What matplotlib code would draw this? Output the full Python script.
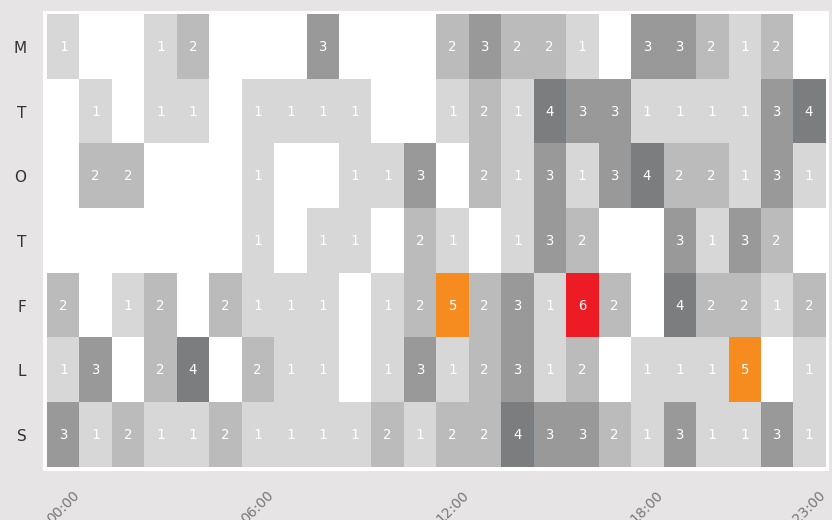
import matplotlib.pyplot as plt
import numpy as np
from matplotlib.colors import ListedColormap, BoundaryNorm

days = ['M', 'T', 'O', 'T', 'F', 'L', 'S']
hour_ticks = [0, 6, 12, 18, 23]
hour_labels = ['00:00', '06:00', '12:00', '18:00', '23:00']

mon = [1, 0, 0, 1, 2, 0, 0, 0, 3, 0, 0, 0, 2, 3, 2, 2, 1, 0, 3, 3, 2, 1, 2, 0]
tue = [0, 1, 0, 1, 1, 0, 1, 1, 1, 1, 0, 0, 1, 2, 1, 4, 3, 3, 1, 1, 1, 1, 3, 4]
wed = [0, 2, 2, 0, 0, 0, 1, 0, 0, 1, 1, 3, 0, 2, 1, 3, 1, 3, 4, 2, 2, 1, 3, 1]
thu = [0, 0, 0, 0, 0, 0, 1, 0, 1, 1, 0, 2, 1, 0, 1, 3, 2, 0, 0, 3, 1, 3, 2, 0]
fri = [2, 0, 1, 2, 0, 2, 1, 1, 1, 0, 1, 2, 5, 2, 3, 1, 6, 2, 0, 4, 2, 2, 1, 2]
sat = [1, 3, 0, 2, 4, 0, 2, 1, 1, 0, 1, 3, 1, 2, 3, 1, 2, 0, 1, 1, 1, 5, 0, 1]
sun = [3, 1, 2, 1, 1, 2, 1, 1, 1, 1, 2, 1, 2, 2, 4, 3, 3, 2, 1, 3, 1, 1, 3, 1]

level_colors = ['#ffffff', '#d7d7d7', '#bcbbbc', '#99999a', '#7c7d7f', '#f68b1f', '#ed1c24']


def main():
    grid = np.array([mon, tue, wed, thu, fri, sat, sun])
    cmap = ListedColormap(level_colors)
    norm = BoundaryNorm(np.arange(-0.5, 7.5, 1), cmap.N)

    fig = plt.figure(figsize=(8.32, 5.2), dpi=100, facecolor='#e6e4e5')
    ax = fig.add_axes([0.0517, 0.094, 0.9447, 0.8848])
    ax.set_facecolor('white')
    ax.imshow(grid, cmap=cmap, norm=norm, aspect='auto', interpolation='nearest')
    ax.set_xlim(-0.62, 23.62)
    ax.set_ylim(6.56, -0.56)

    for i in range(grid.shape[0]):
        for j in range(grid.shape[1]):
            if grid[i, j] > 0:
                ax.text(j, i, str(grid[i, j]), ha='center', va='center',
                        fontsize=10, color='white', family='DejaVu Sans Mono')

    ax.set_yticks(range(len(days)))
    ax.set_yticklabels(days, fontsize=11, color='#333333')
    ax.set_xticks(hour_ticks)
    ax.set_xticklabels(hour_labels, rotation=45, ha='center', fontsize=10,
                       color='#777777')
    ax.tick_params(axis='both', length=0)
    ax.tick_params(axis='y', pad=12)
    ax.tick_params(axis='x', pad=12)
    for s in ax.spines.values():
        s.set_visible(False)

    fig.savefig('out.png', dpi=100, facecolor=fig.get_facecolor())


if __name__ == '__main__':
    main()
